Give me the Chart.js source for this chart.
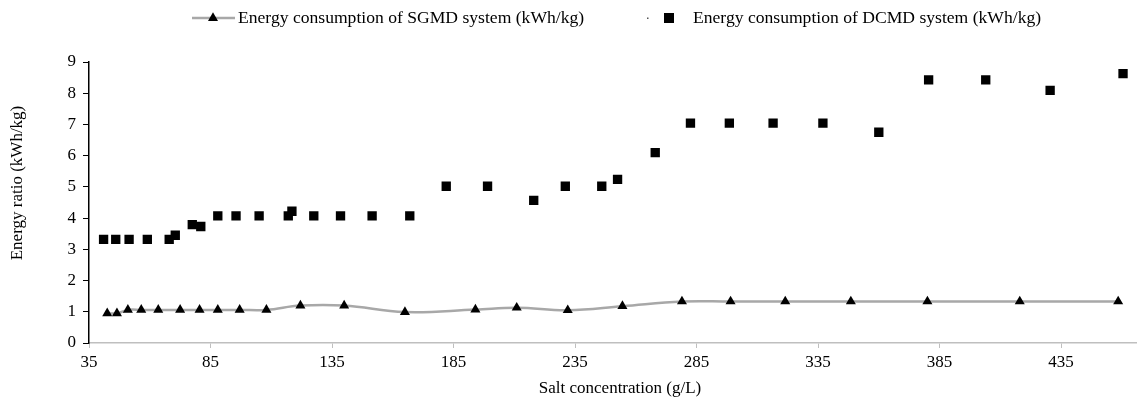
<!DOCTYPE html>
<html>
<head>
<meta charset="utf-8">
<title>Energy consumption SGMD vs DCMD</title>
<script src="https://cdn.jsdelivr.net/npm/chart.js@4.4.0/dist/chart.umd.min.js"></script>
<style>
  body { margin: 0; background: #fff; }
  #wrap { width: 1143px; height: 398px; }
</style>
</head>
<body>
<div id="wrap"><canvas id="chart" width="1143" height="398"></canvas></div>
<script>
// values
const sgmdSalt = [42.5, 46.5, 51, 56.5, 63.5, 72.5, 80.5, 88, 97, 108, 122, 140, 165, 194, 211, 232, 254.5, 279, 299, 321.5, 348.5, 380, 418, 458.5];
const sgmdEnergy = [0.95, 0.95, 1.06, 1.06, 1.06, 1.06, 1.06, 1.06, 1.06, 1.06, 1.2, 1.2, 0.99, 1.07, 1.13, 1.05, 1.18, 1.33, 1.33, 1.33, 1.33, 1.33, 1.33, 1.33];

const dcmdSalt = [41, 46, 51.5, 59, 68, 70.5, 77.5, 81, 88, 95.5, 105, 117, 118.5, 127.5, 138.5, 151.5, 167, 182, 199, 218, 231, 246, 252.5, 268, 282.5, 298.5, 316.5, 337, 360, 380.5, 404, 430.5, 460.5];
const dcmdEnergy = [3.32, 3.32, 3.32, 3.32, 3.32, 3.45, 3.79, 3.73, 4.07, 4.07, 4.07, 4.07, 4.22, 4.07, 4.07, 4.07, 4.07, 5.02, 5.02, 4.57, 5.02, 5.02, 5.24, 6.1, 7.04, 7.04, 7.04, 7.04, 6.75, 8.43, 8.43, 8.09, 8.63];

const xTicks = [35, 85, 135, 185, 235, 285, 335, 385, 435];
const yTicks = [0, 1, 2, 3, 4, 5, 6, 7, 8, 9];

const labels = {
  sgmd: 'Energy consumption of SGMD system (kWh/kg)',
  dcmd: 'Energy consumption of DCMD system (kWh/kg)',
  x: 'Salt concentration (g/L)',
  y: 'Energy ratio (kWh/kg)'
};

const FONT = '"Liberation Serif", "Times New Roman", serif';
const LINE_GRAY = '#a8a8a8';

const toPoints = (xs, ys) => xs.map((x, i) => ({x: x, y: ys[i]}));

// legend + axis titles drawn by hand so they sit where the original has them
const extras = {
  id: 'extras',
  afterDraw(chart) {
    const ctx = chart.ctx;
    ctx.save();
    ctx.font = '17.6px ' + FONT;
    ctx.fillStyle = '#000';
    ctx.textBaseline = 'middle';

    // SGMD legend entry: grey line with triangle
    const ly = 18;
    ctx.strokeStyle = LINE_GRAY;
    ctx.lineWidth = 2.5;
    ctx.beginPath();
    ctx.moveTo(192, ly);
    ctx.lineTo(235, ly);
    ctx.stroke();
    const r = 5.8;
    ctx.beginPath();
    ctx.moveTo(213, ly - r);
    ctx.lineTo(213 + r * 0.866, ly + r * 0.5);
    ctx.lineTo(213 - r * 0.866, ly + r * 0.5);
    ctx.closePath();
    ctx.fill();
    ctx.textAlign = 'left';
    ctx.fillText(labels.sgmd, 238, ly);

    // DCMD legend entry: tiny dot + square
    ctx.fillStyle = '#555';
    ctx.fillRect(647, ly - 0.5, 1.5, 1.5);
    ctx.fillStyle = '#000';
    ctx.fillRect(664, ly - 5, 10, 10);
    ctx.fillText(labels.dcmd, 693, ly);

    // axis titles
    ctx.font = '17px ' + FONT;
    ctx.textAlign = 'center';
    ctx.fillText(labels.x, 620, 389);
    ctx.translate(18, 183);
    ctx.rotate(-Math.PI / 2);
    ctx.fillText(labels.y, 0, 0);
    ctx.restore();
  }
};

new Chart(document.getElementById('chart'), {
  type: 'scatter',
  data: {
    datasets: [
      {
        label: labels.sgmd,
        data: toPoints(sgmdSalt, sgmdEnergy),
        showLine: true,
        tension: 0.4,
        borderColor: LINE_GRAY,
        borderWidth: 2.5,
        pointStyle: 'triangle',
        pointRadius: 5.8,
        pointBackgroundColor: '#000',
        pointBorderColor: '#000',
        pointBorderWidth: 0
      },
      {
        label: labels.dcmd,
        data: toPoints(dcmdSalt, dcmdEnergy),
        showLine: false,
        pointStyle: 'rect',
        pointRadius: 6.6,
        pointBackgroundColor: '#000',
        pointBorderColor: '#000',
        pointBorderWidth: 0
      }
    ]
  },
  options: {
    responsive: false,
    animation: false,
    layout: {padding: {left: 0, top: 62, right: 0, bottom: 0}},
    plugins: {
      legend: {display: false},
      tooltip: {enabled: false}
    },
    scales: {
      x: {
        type: 'linear',
        min: 35,
        max: 466,
        afterBuildTicks: (scale) => { scale.ticks = xTicks.map(v => ({value: v})); },
        afterFit: (scale) => { scale.height = 55; },
        grid: {drawOnChartArea: false, color: '#bfbfbf', tickLength: 5},
        border: {color: '#bfbfbf', width: 1.5},
        ticks: {color: '#000', padding: 4, maxRotation: 0, font: {family: FONT, size: 17}}
      },
      y: {
        min: 0,
        max: 9,
        afterBuildTicks: (scale) => { scale.ticks = yTicks.map(v => ({value: v})); },
        afterFit: (scale) => { scale.width = 89; },
        grid: {drawOnChartArea: false, color: '#000', tickLength: 6},
        border: {color: '#000', width: 1.5},
        ticks: {color: '#000', padding: 7, font: {family: FONT, size: 17}}
      }
    }
  },
  plugins: [extras]
});
</script>
</body>
</html>
